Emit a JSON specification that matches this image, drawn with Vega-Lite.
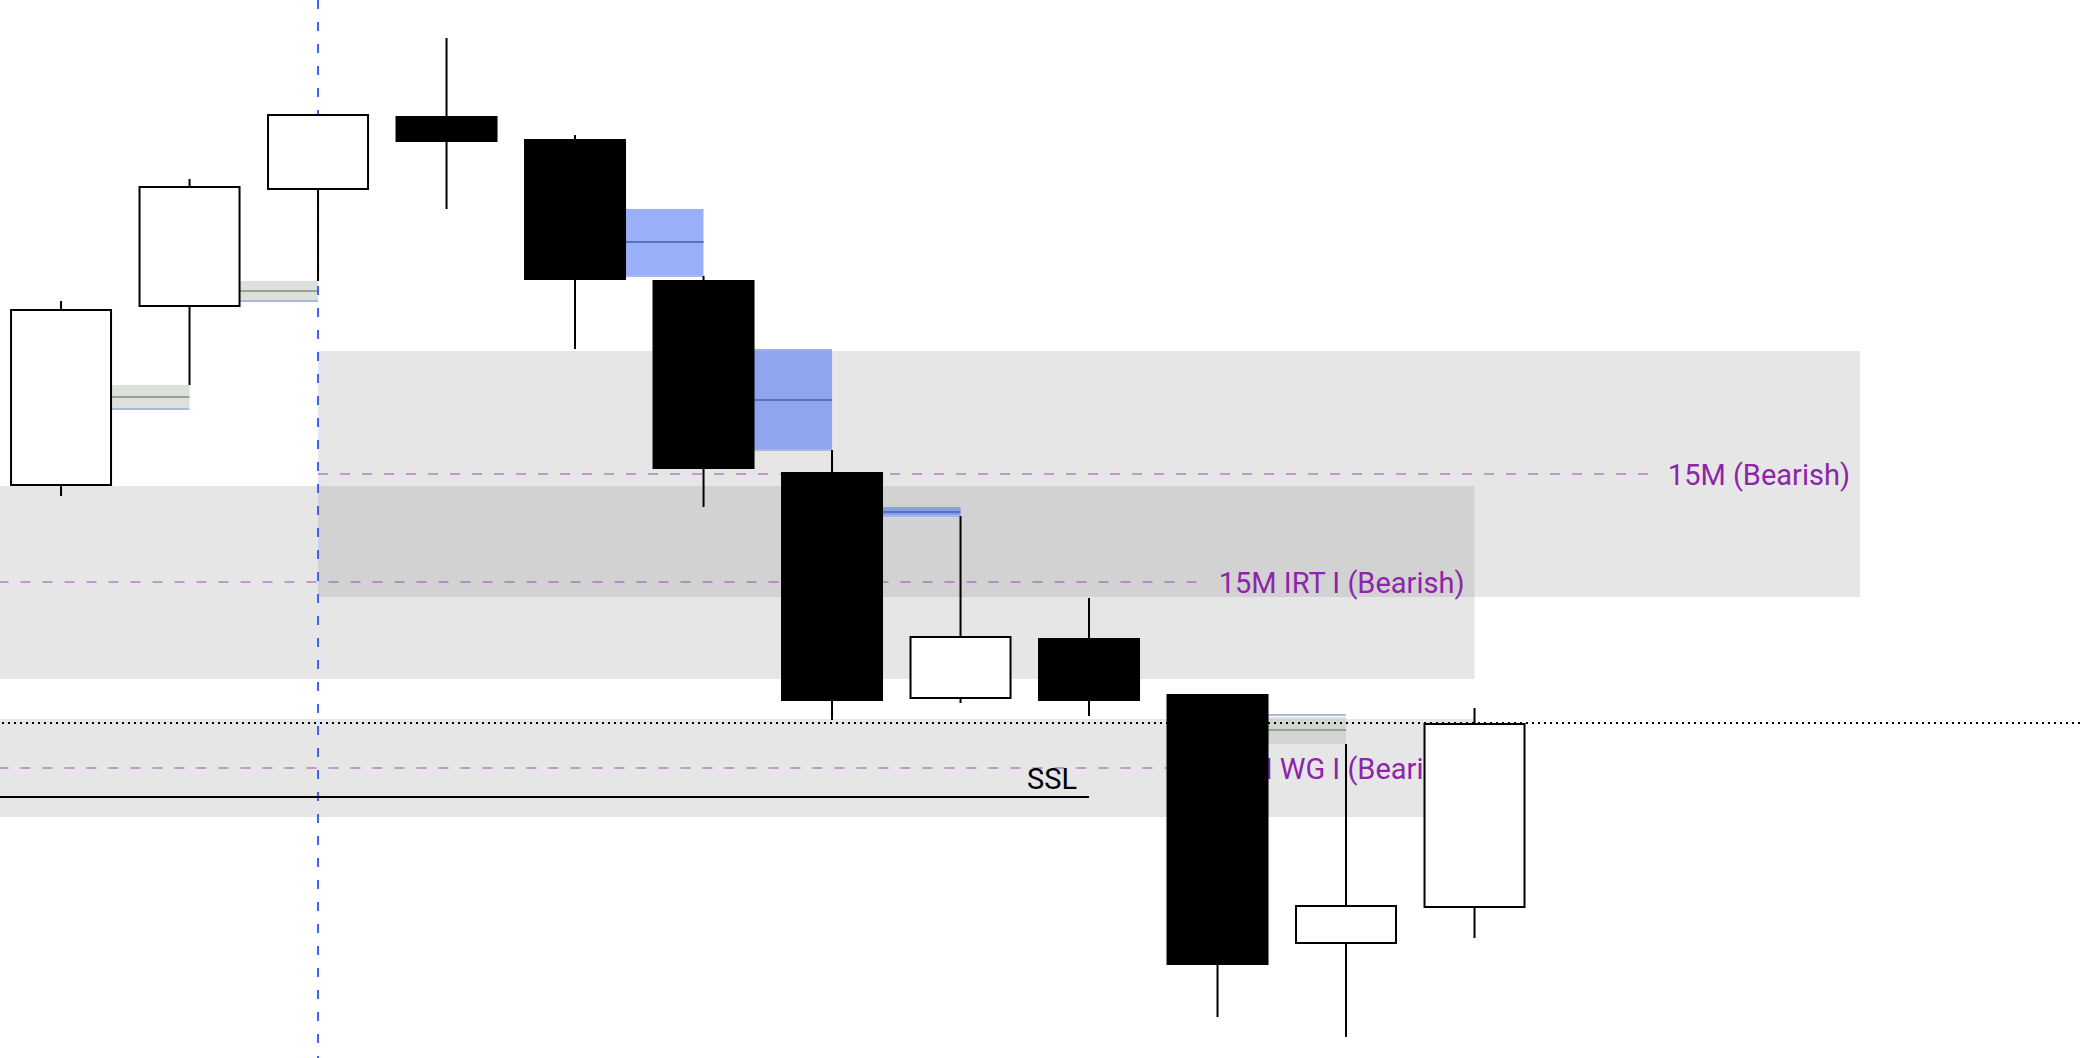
{
  "$schema": "https://vega.github.io/schema/vega-lite/v6.json",
  "width": 2080,
  "height": 1058,
  "autosize": {"type": "none"},
  "padding": 0,
  "background": "#ffffff",
  "config": {"view": {"stroke": null}, "scale": {"continuousPadding": 0}},
  "datasets": {
    "candles": [
      {"t": 0, "o": 5943.25, "h": 5989.25, "l": 5940.5, "c": 5987},
      {"t": 1, "o": 5988, "h": 6019.75, "l": 5968.25, "c": 6017.75},
      {"t": 2, "o": 6017.25, "h": 6035.75, "l": 5994.25, "c": 6035.75},
      {"t": 3, "o": 6035.25, "h": 6055, "l": 6012.25, "c": 6029.25},
      {"t": 4, "o": 6029.5, "h": 6030.75, "l": 5977.25, "c": 5994.75},
      {"t": 5, "o": 5994.25, "h": 5995.5, "l": 5937.75, "c": 5947.5},
      {"t": 6, "o": 5946.25, "h": 5952, "l": 5884.5, "c": 5889.5},
      {"t": 7, "o": 5890, "h": 5935.5, "l": 5888.75, "c": 5905.25},
      {"t": 8, "o": 5904.75, "h": 5915, "l": 5885.5, "c": 5889.5},
      {"t": 9, "o": 5890.75, "h": 5890.75, "l": 5810.25, "c": 5823.5},
      {"t": 10, "o": 5828.75, "h": 5878.5, "l": 5805.25, "c": 5838},
      {"t": 11, "o": 5837.75, "h": 5887.5, "l": 5830, "c": 5883.5}
    ],
    "gaps": [
      {"from": 0, "to": 1, "top": 5968.25, "bottom": 5962.5, "mid": 5965.25, "edge": 5962.25, "kind": "bull"},
      {"from": 1, "to": 2, "top": 5994.25, "bottom": 5989.5, "mid": 5991.75, "edge": 5989.25, "kind": "bull"},
      {"from": 4, "to": 5, "top": 6012.25, "bottom": 5995.75, "mid": 6004, "edge": 5995.5, "kind": "bear"},
      {"from": 5, "to": 6, "top": 5977.25, "bottom": 5952.25, "mid": 5964.5, "edge": 5952, "kind": "bear"},
      {"from": 6, "to": 7, "top": 5937.75, "bottom": 5935.75, "mid": 5936.5, "edge": 5935.5, "kind": "bear"},
      {"from": 9, "to": 10, "top": 5885.25, "bottom": 5878.5, "mid": 5882, "edge": 5885.75, "kind": "bull"}
    ],
    "zones": [
      {"x0": 2, "x1": 14, "top": 5976.75, "bottom": 5915.25, "mid": 5946, "dashEnd": 12.35, "label": "15M (Bearish)"},
      {"x0": -1, "x1": 11, "top": 5943, "bottom": 5894.75, "mid": 5919, "dashEnd": 8.9, "label": "15M IRT I (Bearish)"},
      {"x0": -1, "x1": 11, "top": 5884.75, "bottom": 5860.25, "mid": 5872.5, "dashEnd": 8.94, "label": "15M WG I (Bearish)"}
    ],
    "marker": [{"t": 2}],
    "dotted": [{"price": 5883.75}],
    "ssl": [{"x0": -1, "x1": 8, "price": 5865.25, "label": "SSL"}]
  },
  "layer": [
    {
      "data": {"name": "zones"},
      "mark": {"type": "rect", "fill": "#808080", "opacity": 0.2, "clip": true},
      "encoding": {
        "x": {"field": "x0", "type": "quantitative", "scale": {"domain": [-0.475, 15.712], "nice": false, "zero": false, "padding": 0}, "axis": null},
        "x2": {"field": "x1"},
        "y": {"field": "top", "type": "quantitative", "scale": {"domain": [5800, 6064.5], "nice": false, "zero": false, "padding": 0}, "axis": null},
        "y2": {"field": "bottom"}
      }
    },
    {
      "data": {"name": "gaps"},
      "mark": {"type": "rect", "xOffset": 50, "clip": true},
      "encoding": {
        "x": {"field": "from", "type": "quantitative", "scale": {"domain": [-0.475, 15.712], "nice": false, "zero": false, "padding": 0}, "axis": null},
        "x2": {"field": "to"},
        "y": {"field": "top", "type": "quantitative", "scale": {"domain": [5800, 6064.5], "nice": false, "zero": false, "padding": 0}, "axis": null},
        "y2": {"field": "bottom"},
        "fill": {"field": "kind", "type": "nominal", "scale": {"domain": ["bull", "bear"], "range": ["#b9c4b9", "#557bf3"]}, "legend": null},
        "opacity": {"field": "kind", "type": "nominal", "scale": {"domain": ["bull", "bear"], "range": [0.5, 0.6]}, "legend": null}
      }
    },
    {
      "data": {"name": "gaps"},
      "mark": {"type": "rule", "xOffset": 50, "strokeWidth": 2, "clip": true},
      "encoding": {
        "x": {"field": "from", "type": "quantitative", "scale": {"domain": [-0.475, 15.712], "nice": false, "zero": false, "padding": 0}, "axis": null},
        "x2": {"field": "to"},
        "y": {"field": "mid", "type": "quantitative", "scale": {"domain": [5800, 6064.5], "nice": false, "zero": false, "padding": 0}, "axis": null},
        "color": {"field": "kind", "type": "nominal", "scale": {"domain": ["bull", "bear"], "range": ["#9a9f9a", "#5670c4"]}, "legend": null}
      }
    },
    {
      "data": {"name": "gaps"},
      "mark": {"type": "rule", "xOffset": 50, "strokeWidth": 2, "color": "#a9b8dc", "clip": true},
      "encoding": {
        "x": {"field": "from", "type": "quantitative", "scale": {"domain": [-0.475, 15.712], "nice": false, "zero": false, "padding": 0}, "axis": null},
        "x2": {"field": "to"},
        "y": {"field": "edge", "type": "quantitative", "scale": {"domain": [5800, 6064.5], "nice": false, "zero": false, "padding": 0}, "axis": null}
      }
    },
    {
      "data": {"name": "marker"},
      "mark": {"type": "rule", "color": "#3b63ee", "strokeWidth": 2, "strokeDash": [9, 13], "clip": true},
      "encoding": {
        "x": {"field": "t", "type": "quantitative", "scale": {"domain": [-0.475, 15.712], "nice": false, "zero": false, "padding": 0}, "axis": null}
      }
    },
    {
      "data": {"name": "zones"},
      "mark": {"type": "rule", "color": "#8e24aa", "opacity": 0.4, "strokeWidth": 2, "strokeDash": [10, 12], "clip": true},
      "encoding": {
        "x": {"field": "x0", "type": "quantitative", "scale": {"domain": [-0.475, 15.712], "nice": false, "zero": false, "padding": 0}, "axis": null},
        "x2": {"field": "dashEnd"},
        "y": {"field": "mid", "type": "quantitative", "scale": {"domain": [5800, 6064.5], "nice": false, "zero": false, "padding": 0}, "axis": null}
      }
    },
    {
      "data": {"name": "zones"},
      "mark": {"type": "text", "align": "right", "baseline": "middle", "dx": -10, "dy": 2, "font": "Roboto", "fontSize": 29, "color": "#8e24aa"},
      "encoding": {
        "x": {"field": "x1", "type": "quantitative", "scale": {"domain": [-0.475, 15.712], "nice": false, "zero": false, "padding": 0}, "axis": null},
        "y": {"field": "mid", "type": "quantitative", "scale": {"domain": [5800, 6064.5], "nice": false, "zero": false, "padding": 0}, "axis": null},
        "text": {"field": "label"}
      }
    },
    {
      "data": {"name": "dotted"},
      "mark": {"type": "rule", "color": "#000000", "strokeWidth": 2, "strokeDash": [2, 4]},
      "encoding": {
        "y": {"field": "price", "type": "quantitative", "scale": {"domain": [5800, 6064.5], "nice": false, "zero": false, "padding": 0}, "axis": null}
      }
    },
    {
      "data": {"name": "ssl"},
      "mark": {"type": "rule", "color": "#000000", "strokeWidth": 2, "clip": true},
      "encoding": {
        "x": {"field": "x0", "type": "quantitative", "scale": {"domain": [-0.475, 15.712], "nice": false, "zero": false, "padding": 0}, "axis": null},
        "x2": {"field": "x1"},
        "y": {"field": "price", "type": "quantitative", "scale": {"domain": [5800, 6064.5], "nice": false, "zero": false, "padding": 0}, "axis": null}
      }
    },
    {
      "data": {"name": "ssl"},
      "mark": {"type": "text", "align": "right", "baseline": "alphabetic", "dx": -12, "dy": -8, "font": "Roboto", "fontSize": 29, "color": "#000000"},
      "encoding": {
        "x": {"field": "x1", "type": "quantitative", "scale": {"domain": [-0.475, 15.712], "nice": false, "zero": false, "padding": 0}, "axis": null},
        "y": {"field": "price", "type": "quantitative", "scale": {"domain": [5800, 6064.5], "nice": false, "zero": false, "padding": 0}, "axis": null},
        "text": {"field": "label"}
      }
    },
    {
      "data": {"name": "candles"},
      "mark": {"type": "rule", "color": "#000000", "strokeWidth": 2},
      "encoding": {
        "x": {"field": "t", "type": "quantitative", "scale": {"domain": [-0.475, 15.712], "nice": false, "zero": false, "padding": 0}, "axis": null},
        "y": {"field": "l", "type": "quantitative", "scale": {"domain": [5800, 6064.5], "nice": false, "zero": false, "padding": 0}, "axis": null},
        "y2": {"field": "h"}
      }
    },
    {
      "data": {"name": "candles"},
      "mark": {"type": "bar", "size": 100, "stroke": "#000000", "strokeWidth": 2},
      "encoding": {
        "x": {"field": "t", "type": "quantitative", "scale": {"domain": [-0.475, 15.712], "nice": false, "zero": false, "padding": 0}, "axis": null},
        "y": {"field": "o", "type": "quantitative", "scale": {"domain": [5800, 6064.5], "nice": false, "zero": false, "padding": 0}, "axis": null},
        "y2": {"field": "c"},
        "fill": {"condition": {"test": "datum.c > datum.o", "value": "#ffffff"}, "value": "#000000"}
      }
    }
  ]
}
